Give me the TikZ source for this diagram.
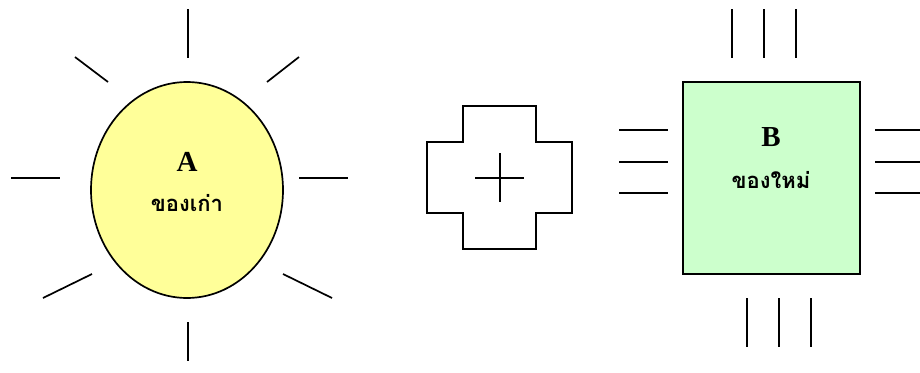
\documentclass[tikz,border=0pt]{standalone}
\usepackage{fontspec}
\setmainfont{Liberation Serif}
\newfontfamily\thaifont[Script=Thai]{Loma}
\usepackage{tikz}
\usetikzlibrary{shapes.geometric}

\begin{document}
\begin{tikzpicture}[
    x=1pt, y=-1pt,
    ray/.style={line width=1.7pt, line cap=butt},
    title/.style={font=\fontsize{29}{32}\selectfont\bfseries},
    thai/.style={font=\fontsize{22}{26}\selectfont\thaifont\bfseries}
]
\useasboundingbox (0,0) rectangle (920,372);

% Old one (sun)
\node[draw, ellipse, line width=1.7pt, fill={rgb,255:red,255;green,255;blue,153},
      minimum width=192pt, minimum height=216pt, inner sep=0pt] (sunA) at (187,190) {};
\node[title] (labelA) at (187,162) {A};
\node[thai] (textA) at (187,203) {ของเก่า};

% Sun rays
\foreach \xa/\ya/\xb/\yb in {188/9/188/58, 188/322/188/361, 11/178/60/178, 299/178/348/178,
    75/57/108/82, 299/57/267/82, 43/298/92/274, 283/274/332/298} {
    \draw[ray] (\xa,\ya) -- (\xb,\yb);
}

% Plus sign
\draw[ray] (463,106) -- (536,106) -- (536,142) -- (572,142) -- (572,213) -- (536,213)
    -- (536,249) -- (463,249) -- (463,213) -- (427,213) -- (427,142) -- (463,142) -- cycle;
\draw[ray] (475,178) -- (524,178);
\draw[ray] (500,153) -- (500,202);

% New one (chip)
\node[draw, line width=1.7pt, fill={rgb,255:red,204;green,255;blue,204},
      minimum width=177pt, minimum height=192pt, inner sep=0pt] (chipB) at (771.5,178) {};
\node[title] (labelB) at (771,137) {B};
\node[thai] (textB) at (771,180) {ของใหม่};

% Chip pins
\foreach \px in {732, 764, 796} {
    \draw[ray] (\px,9) -- (\px,58);
}
\foreach \px in {747, 779, 811} {
    \draw[ray] (\px,298) -- (\px,347);
}
\foreach \py in {130, 162, 193} {
    \draw[ray] (619,\py) -- (668,\py);
    \draw[ray] (875,\py) -- (920,\py);
}

\end{tikzpicture}
\end{document}
